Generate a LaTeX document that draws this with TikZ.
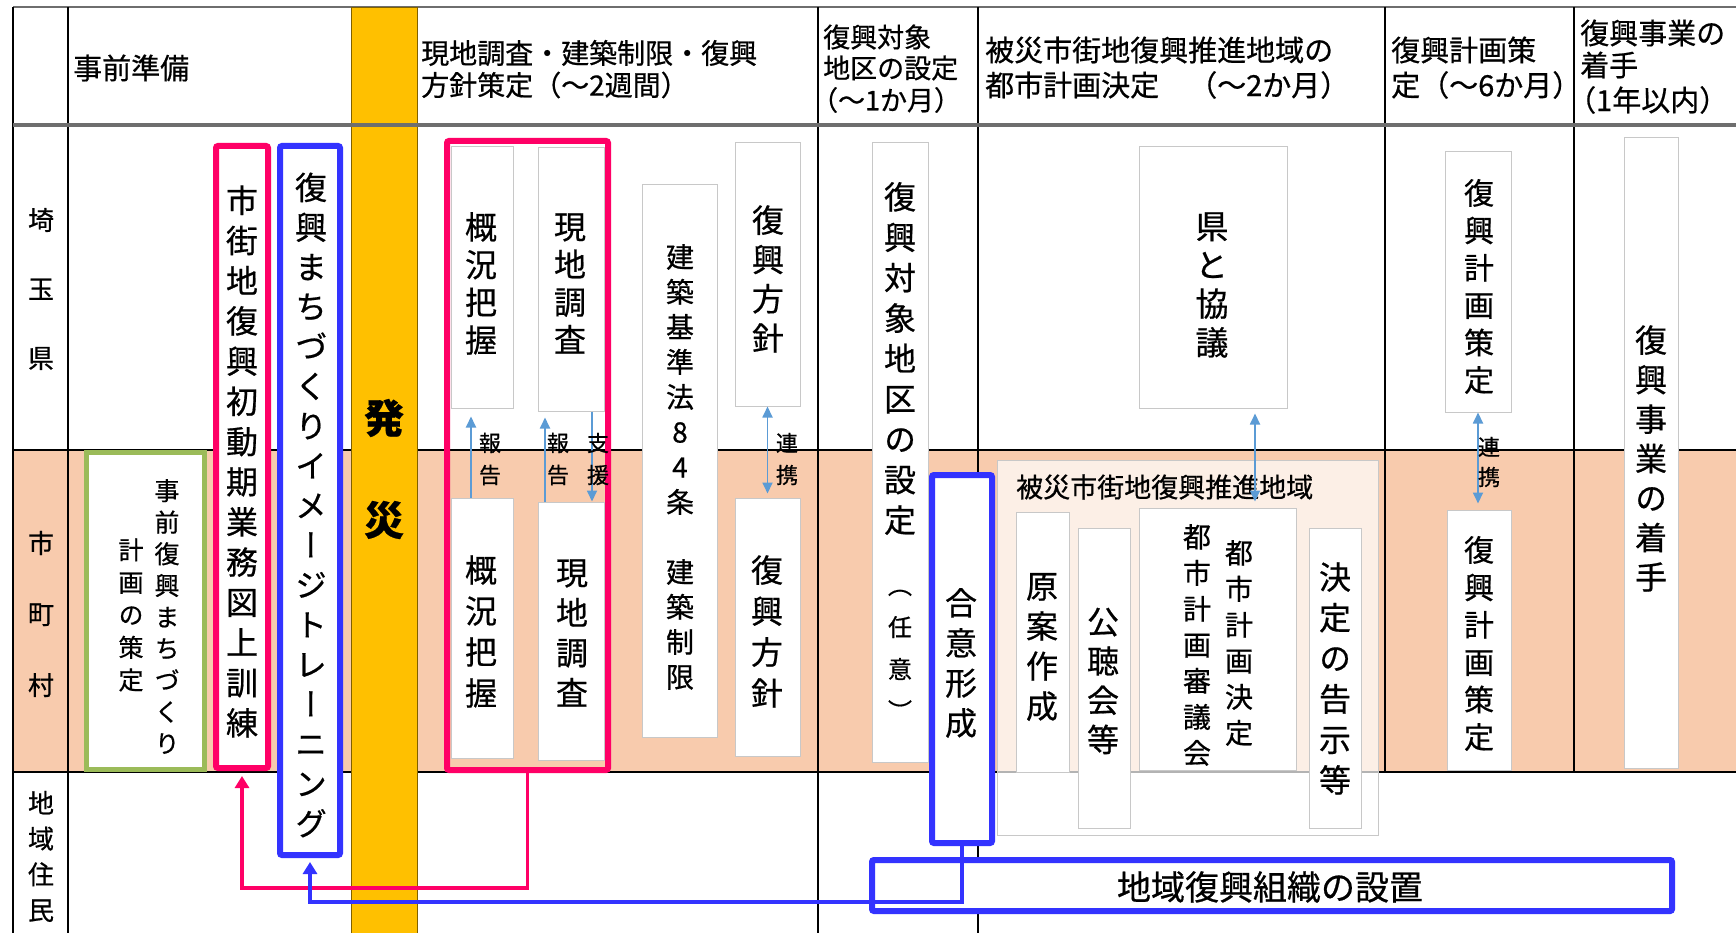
\documentclass[tikz,border=0pt]{standalone}
\usepackage{fontspec}
\setmainfont{Noto Sans CJK JP}[FakeBold=0.6]
\newfontfamily\vjp[RawFeature=+vert, FakeBold=0.6]{Noto Sans CJK JP}
\usetikzlibrary{arrows.meta}
\definecolor{rowor}{HTML}{F8CBAD}
\definecolor{bandc}{HTML}{FFC000}
\definecolor{bandedge}{HTML}{7F6000}
\definecolor{rred}{HTML}{FF0066}
\definecolor{bblue}{HTML}{3333FF}
\definecolor{ggreen}{HTML}{9BBB59}
\definecolor{arrc}{HTML}{5B9BD5}
\definecolor{boxgray}{HTML}{C8C8C8}
\definecolor{hdrline}{HTML}{6E6E6E}
\newcommand\vstk[3]{\vbox{\vjp\fontsize{#1}{#2}\selectfont\lineskiplimit=-1000pt\lineskip=0pt\vstkloop#3\relax}}
\def\vstkloop#1{\ifx\relax#1\else\hbox to 1.15em{\hss#1\hss}\expandafter\vstkloop\fi}
\tikzset{
  wbox/.style={draw=boxgray, line width=1pt, fill=white, inner sep=0pt},
  redbox/.style={draw=rred, line width=6pt, rounded corners=2pt, inner sep=0pt},
  bluebox/.style={draw=bblue, line width=6pt, rounded corners=2pt, inner sep=0pt},
  greenbox/.style={draw=ggreen, line width=5pt, fill=white, inner sep=0pt},
  grpbox/.style={draw=boxgray, line width=1pt, fill=white, fill opacity=0.7, inner sep=0pt},
  txt/.style={inner sep=0pt, text=black},
  hdr/.style={anchor=west, inner sep=0pt, font=\fontsize{29}{33}\selectfont},
  grid/.style={draw=black, line width=1.3pt},
  redconn/.style={draw=rred, line width=3.3pt, -{Triangle[width=14pt,length=12pt]}},
  blueconn/.style={draw=bblue, line width=3.3pt, -{Triangle[width=14pt,length=12pt]}},
  barr/.style={draw=arrc, line width=1.8pt, -{Triangle[width=10pt,length=11pt]}},
  bbarr/.style={draw=arrc, line width=1.8pt, {Triangle[width=10pt,length=11pt]}-{Triangle[width=10pt,length=11pt]}},
}
\begin{document}
\begin{tikzpicture}[x=1pt,y=-1pt]
\useasboundingbox (0,0) rectangle (1736,933);
\fill[white] (0,0) rectangle (1736,933);
% orange row
\fill[rowor] (13,450) rectangle (1736,772);
% grid
\draw[draw=hdrline, line width=1.5pt] (13,7) -- (1736,7);
\draw[grid] (13,7) -- (13,933);
\draw[grid] (68,7) -- (68,933);
\draw[grid] (818,7) -- (818,933);
\draw[grid] (978,7) -- (978,933);
\draw[grid] (1385,7) -- (1385,772);
\draw[grid] (1574,7) -- (1574,772);
\draw[grid] (13,450) -- (1736,450);
\draw[grid] (13,772) -- (1736,772);
% band
\filldraw[fill=bandc, draw=bandedge, line width=0.8pt] (351,7) rectangle (417,933);
\draw[draw=hdrline, line width=3.5pt] (13,125) -- (1736,125);
% headers
\node[hdr] (h1) at (73,68) {事前準備};
\node[hdr, font=\fontsize{28}{32}\selectfont] (h2a) at (421,53) {現地調査・建築制限・復興};
\node[hdr, font=\fontsize{28}{32}\selectfont] (h2b) at (421,85) {方針策定（～2週間）};
\node[hdr, font=\fontsize{27}{31}\selectfont] (h3a) at (823,37) {復興対象};
\node[hdr, font=\fontsize{27}{31}\selectfont] (h3b) at (823,68) {地区の設定};
\node[hdr, font=\fontsize{27}{31}\selectfont] (h3c) at (823,100) {\hspace*{-0.45em}（～1か月）};
\node[hdr] (h4a) at (985,50) {被災市街地復興推進地域の};
\node[hdr] (h4b) at (985,85) {都市計画決定　（～2か月）};
\node[hdr] (h5a) at (1391,50) {復興計画策};
\node[hdr] (h5b) at (1391,85) {定（～6か月）};
\node[hdr] (h6a) at (1580,33) {復興事業の};
\node[hdr] (h6b) at (1580,65) {着手};
\node[hdr] (h6c) at (1580,100) {\hspace*{-0.45em}（1年以内）};
% row labels
\node[txt] (r1) at (41,289) {\vstk{26}{69}{埼玉県}};
\node[txt] (r2) at (41,614) {\vstk{26}{71}{市町村}};
\node[txt] (r3) at (41,856.5) {\vstk{26}{35.7}{地域住民}};
% band text
\node[txt, font=\bfseries\fontsize{40}{44}\selectfont] (hatsu) at (384,418) {発};
\node[txt, font=\bfseries\fontsize{40}{44}\selectfont] (sai) at (384,520) {災};
% pre-disaster boxes
\node[greenbox, minimum width=118pt, minimum height=317pt] (jizen) at (145.5,611) {};
\node[txt] (tj1) at (167,616.5) {\vstk{25}{31.6}{事前復興まちづくり}};
\node[txt] (tj2) at (131,615) {\vstk{25}{32.5}{計画の策定}};
\node[redbox, fill=white, minimum width=52pt, minimum height=622pt] (shigai) at (242,457) {};
\node[txt] (tshigai) at (242,461.5) {\vstk{32}{40.2}{市街地復興初動期業務図上訓練}};
\node[bluebox, fill=white, minimum width=60pt, minimum height=709pt] (machi) at (310,500.5) {};
\node[txt] (tmachi) at (311,505) {\vstk{32}{39.75}{復興まちづくりイメージトレーニング}};
% survey group
\node[wbox, minimum width=62pt, minimum height=261pt] (gku) at (482,277.5) {};
\node[wbox, minimum width=66pt, minimum height=263pt] (gnu) at (571,279.5) {};
\node[wbox, minimum width=62pt, minimum height=260pt] (gkl) at (482,628) {};
\node[wbox, minimum width=66pt, minimum height=258pt] (gnl) at (571,631) {};
\node[redbox, minimum width=161pt, minimum height=629pt] (grp) at (527.5,455.5) {};
\node[txt] (tgku) at (481,283.5) {\vstk{32}{37.7}{概況把握}};
\node[txt] (tgnu) at (570,283.5) {\vstk{32}{37.7}{現地調査}};
\node[txt] (tgkl) at (481,631.5) {\vstk{32}{41}{概況把握}};
\node[txt] (tgnl) at (572,633) {\vstk{32}{40}{現地調査}};
\node[wbox, minimum width=75pt, minimum height=552pt] (kenchiku) at (679.5,461) {};
\node[txt] (tkenchiku) at (680,467) {\vstk{28}{35}{建築基準法84条　建築制限}};
\node[wbox, minimum width=65pt, minimum height=263pt] (hsu) at (767.5,274.5) {};
\node[wbox, minimum width=65pt, minimum height=258pt] (hsl) at (767.5,627) {};
\node[txt] (thsu) at (768,279) {\vstk{32}{39.3}{復興方針}};
\node[txt] (thsl) at (767,631.5) {\vstk{32}{41}{復興方針}};
% arrows in survey column
\draw[barr, shorten >=8pt] ([xshift=-11pt]gkl.north) -- ([xshift=-11pt]gku.south);
\draw[barr, shorten >=6pt] ([xshift=-26pt]gnl.north) -- ([xshift=-26pt]gnu.south);
\draw[barr] ([xshift=21pt]gnu.south) -- ([xshift=21pt]gnl.north);
\draw[bbarr, shorten >=4pt] (hsu.south) -- (hsl.north);
\node[txt] (lb1) at (490,459) {\vstk{22}{32}{報告}};
\node[txt] (lb2) at (558,459) {\vstk{22}{32}{報告}};
\node[txt] (lb3) at (598,459) {\vstk{22}{32}{支援}};
\node[txt] (lb4) at (787,459) {\vstk{22}{32}{連携}};
% target district
\node[wbox, minimum width=56pt, minimum height=619pt] (taisho) at (900,452.5) {};
\node[txt] (ttaisho) at (900,358.5) {\vstk{32}{40.4}{復興対象地区の設定}};
\node[txt] (tnini) at (900,655) {\vstk{24}{42}{（任意）}};
\node[bluebox, fill=white, minimum width=60pt, minimum height=368pt] (goi) at (962,659) {};
\node[txt] (tgoi) at (961,663) {\vstk{32}{40}{合意形成}};
% urban planning
\node[wbox, minimum width=148pt, minimum height=261pt] (kyogi) at (1213,277.5) {};
\node[txt] (tkyogi) at (1212,285) {\vstk{33}{38.7}{県と協議}};
\node[grpbox, minimum width=381pt, minimum height=375pt] (hisai) at (1187.5,647.5) {};
\node[txt, anchor=west, font=\fontsize{27}{30}\selectfont] (thisai) at (1016,487) {被災市街地復興推進地域};
\node[wbox, minimum width=53pt, minimum height=260pt] (genan) at (1042.5,642) {};
\node[wbox, minimum width=52pt, minimum height=300pt] (kocho) at (1104,678) {};
\node[wbox, minimum width=157pt, minimum height=262pt] (toshi) at (1217.5,639) {};
\node[wbox, minimum width=52pt, minimum height=300pt] (kokuji) at (1335,678) {};
\node[txt] (tgenan) at (1042,647) {\vstk{32}{40}{原案作成}};
\node[txt] (tkocho) at (1103,681) {\vstk{32}{39.3}{公聴会等}};
\node[txt] (ttoshi1) at (1197,645) {\vstk{28}{36}{都市計画審議会}};
\node[txt] (ttoshi2) at (1239,643) {\vstk{28}{36}{都市計画決定}};
\node[txt] (tkokuji) at (1335,678.5) {\vstk{32}{40.6}{決定の告示等}};
\draw[bbarr, shorten <=5pt, shorten >=6pt] ([xshift=42pt]kyogi.south) -- ([xshift=42pt]kyogi.south |- toshi.north);
% reconstruction plan
\node[wbox, minimum width=66pt, minimum height=260pt] (kku) at (1478,282) {};
\node[wbox, minimum width=64pt, minimum height=260pt] (kkl) at (1479,640) {};
\node[txt] (tkku) at (1479,286.5) {\vstk{30}{37.4}{復興計画策定}};
\node[txt] (tkkl) at (1479,643.5) {\vstk{30}{37.4}{復興計画策定}};
\draw[bbarr, shorten >=6pt] (kku.south) -- (kku.south |- kkl.north);
\node[txt] (lb5) at (1489,462) {\vstk{22}{30}{連携}};
% project start
\node[wbox, minimum width=54pt, minimum height=630pt] (jigyo) at (1651,453) {};
\node[txt] (tjigyo) at (1651,458.5) {\vstk{32}{39.5}{復興事業の着手}};
% community organisation
\node[bluebox, fill=white, minimum width=800pt, minimum height=51pt] (soshiki) at (1272,885.5) {};
\node[txt, font=\fontsize{34}{38}\selectfont] (tsoshiki) at (1270,887) {地域復興組織の設置};
% connectors
\draw[redconn, shorten >=5pt] (grp.south) -- ++(0,115) -| (shigai.south);
\draw[blueconn, shorten >=4pt] (goi.south) -- ++(0,56) -| (machi.south);
\end{tikzpicture}
\end{document}
